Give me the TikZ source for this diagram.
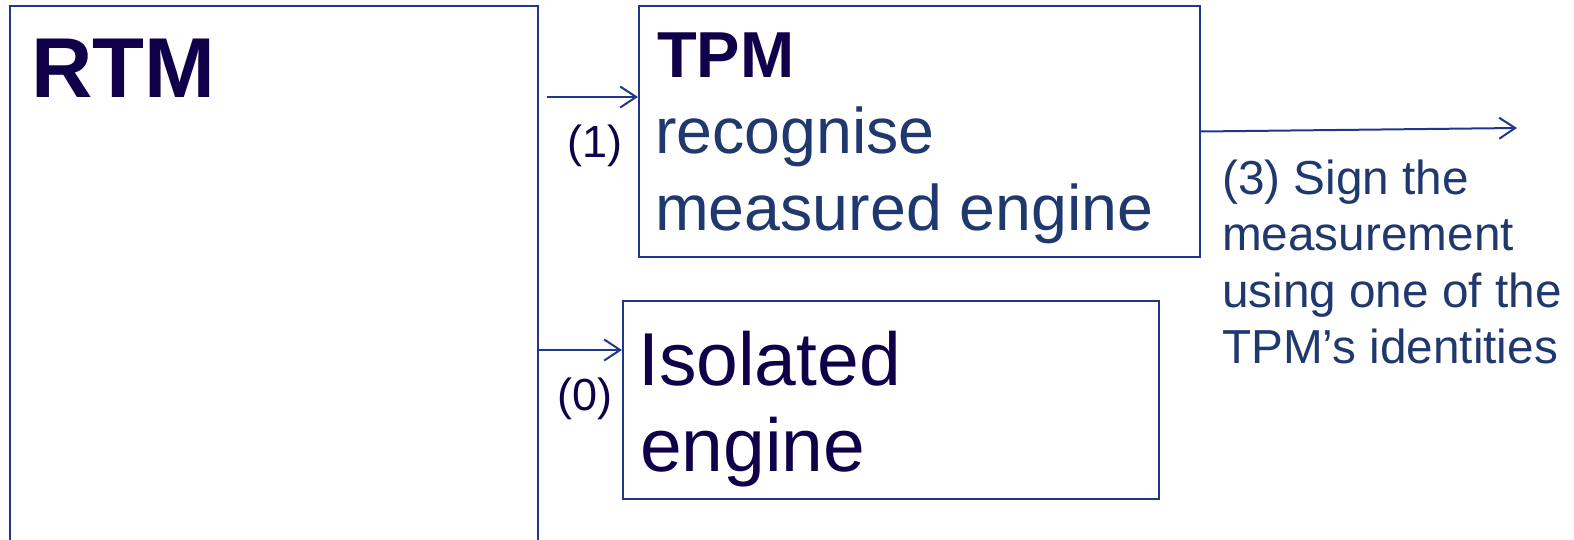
\documentclass[tikz,border=0pt]{standalone}
\usepackage{fontspec}
\setmainfont{Liberation Sans}
\usetikzlibrary{arrows.meta}
\definecolor{frameblue}{RGB}{31, 56, 138}
\definecolor{inkblue}{RGB}{16, 0, 74}
\definecolor{textblue}{RGB}{31, 56, 110}

\tikzset{
  box/.style={draw=frameblue, line width=2pt, inner sep=0pt, anchor=north west},
  link/.style={draw=frameblue, line width=2pt, -{Straight Barb[length=16pt, width=21pt, line width=2pt]}},
  txt/.style={anchor=base west, inner sep=0pt},
}

\begin{document}
\begin{tikzpicture}[x=1pt, y=-1pt]
    \useasboundingbox (0,0) rectangle (1574,540);
    \clip (0,0) rectangle (1574,540);

    % RTM (open at the bottom)
    \node[box, minimum width=528, minimum height=600] (rtm) at (9,5) {};
    \node[txt, text=inkblue, font=\fontsize{85}{102}\selectfont\bfseries] (rtmlbl) at (31,98) {RTM};

    % TPM
    \node[box, minimum width=561, minimum height=251] (tpm) at (638,5) {};
    \node[txt, text=inkblue, font=\fontsize{65}{78}\selectfont\bfseries] (tpmlbl) at (657,78) {TPM};
    \node[txt, text=textblue, font=\fontsize{64.5}{77}\selectfont] (tpmtxt1) at (655,154) {recognise};
    \node[txt, text=textblue, font=\fontsize{64.5}{77}\selectfont] (tpmtxt2) at (655,231) {measured engine};

    % Isolated engine
    \node[box, minimum width=536, minimum height=198] (iso) at (622,300) {};
    \node[txt, text=inkblue, font=\fontsize{75}{90}\selectfont] (isolbl1) at (638,385) {Isolated};
    \node[txt, text=inkblue, font=\fontsize{75}{90}\selectfont] (isolbl2) at (640,471) {engine};

    % (1) measure the engine into the TPM
    \coordinate (src1) at (547,97);
    \draw[link] (src1) -- (src1 -| tpm.west);
    \node[txt, text=inkblue, font=\fontsize{45}{54}\selectfont] (step1) at (567,158) {(1)};

    % (0) isolate the engine
    \coordinate (src0) at (rtm.east |- 0,350);
    \draw[link] (src0) -- (src0 -| iso.west);
    \node[txt, text=inkblue, font=\fontsize{45}{54}\selectfont] (step0) at (557,410) {(0)};

    % (3) signed measurement goes out
    \coordinate (out) at (1517,128);
    \draw[link] (tpm.east) -- (out);
    \node[txt, text=textblue, font=\fontsize{47.7}{57}\selectfont] (sign1) at (1222,195) {(3) Sign the};
    \node[txt, text=textblue, font=\fontsize{47.7}{57}\selectfont] (sign2) at (1222,251) {measurement};
    \node[txt, text=textblue, font=\fontsize{47.7}{57}\selectfont] (sign3) at (1222,307) {using one of the};
    \node[txt, text=textblue, font=\fontsize{47.7}{57}\selectfont] (sign4) at (1222,363) {TPM’s identities};
\end{tikzpicture}
\end{document}
